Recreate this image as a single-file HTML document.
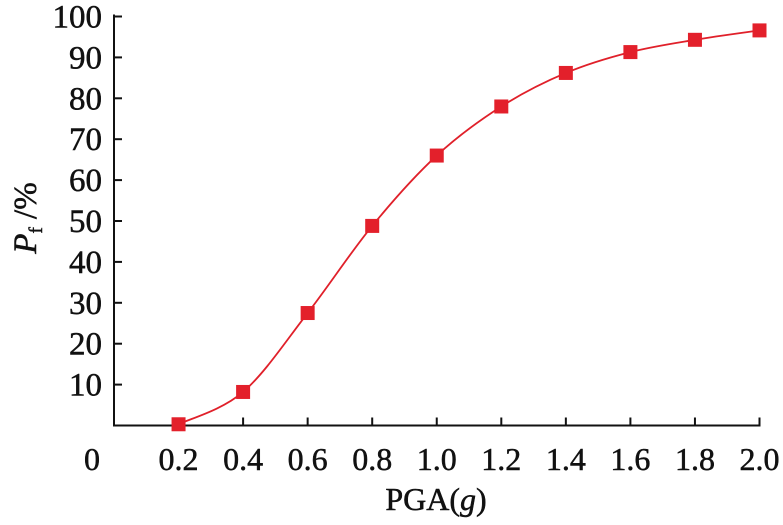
<!DOCTYPE html>
<html><head><meta charset="utf-8"><style>
body{margin:0;background:#fff}
svg text{font-family:"Liberation Serif",serif;fill:#111;stroke:#111;stroke-width:0.5}
</style></head><body>
<svg id="chart" width="783" height="520" xmlns="http://www.w3.org/2000/svg">
<g id="axes"></g>
<path id="curve" fill="none" stroke="#e0202a" stroke-width="1.8"></path>
<g id="marks"></g>
<text x="436" y="510" font-size="32" text-anchor="middle">PGA(<tspan font-style="italic">g</tspan>)</text>
<text transform="translate(36,218) rotate(-90)" font-size="33" text-anchor="middle"><tspan font-style="italic">P</tspan><tspan font-size="19" dy="6">f</tspan><tspan dy="-6"> /%</tspan></text>
</svg>
<script>
const categories=[0.2,0.4,0.6,0.8,1.0,1.2,1.4,1.6,1.8,2.0];
const pfValues=[0.3,8.2,27.5,48.8,66.0,78.0,86.2,91.3,94.3,96.6];
const xTickLabels=["0.2","0.4","0.6","0.8","1.0","1.2","1.4","1.6","1.8","2.0"];
const yTickLabels=[10,20,30,40,50,60,70,80,90,100];
const NS="http://www.w3.org/2000/svg";
const X0=114,X1=759.5,Y0=425.5,Y1=16.5;
const xs=v=>X0+(v-0)/(2.0-0.2+0.2)*(X1-X0);
const ys=v=>Y0-v/100*(Y0-Y1);
const axes=document.getElementById('axes');
function el(t,a,p){const e=document.createElementNS(NS,t);for(const k in a)e.setAttribute(k,a[k]);p.appendChild(e);return e;}
const xa=el('line',{x1:X0,y1:Y0,x2:X1+1,y2:Y0,stroke:'#111','stroke-width':2},axes);


const ya=el('line',{x1:X0,y1:Y0+1,x2:X0,y2:Y1-2,stroke:'#111','stroke-width':2},axes);


const z=el('text',{x:92,y:470,'font-size':32,'text-anchor':'middle'},axes);z.textContent='0';


categories.forEach((c,i)=>{
  const x=xs(c);
  const t=el('line',{x1:x,y1:Y0,x2:x,y2:Y0-8,stroke:'#111','stroke-width':2},axes);
  
  
  const l=el('text',{x:x,y:470,'font-size':32,'text-anchor':'middle'},axes);l.textContent=xTickLabels[i];
  
  
});
yTickLabels.forEach(v=>{
  const y=ys(v);
  const t=el('line',{x1:X0,y1:y,x2:X0+8,y2:y,stroke:'#111','stroke-width':2},axes);
  
  
  const l=el('text',{x:102,y:y+11,'font-size':33,'text-anchor':'end'},axes);l.textContent=v;
  
  
});
const pts=categories.map((c,i)=>[xs(c),ys(pfValues[i])]);
let d='M'+pts[0][0]+','+pts[0][1];
for(let i=0;i<pts.length-1;i++){
  const p0=pts[Math.max(0,i-1)],p1=pts[i],p2=pts[i+1],p3=pts[Math.min(pts.length-1,i+2)];
  const c1=[p1[0]+(p2[0]-p0[0])/6,p1[1]+(p2[1]-p0[1])/6];
  const c2=[p2[0]-(p3[0]-p1[0])/6,p2[1]-(p3[1]-p1[1])/6];
  d+=' C'+c1+' '+c2+' '+p2;
}
document.getElementById('curve').setAttribute('d',d);
const marks=document.getElementById('marks');
pts.forEach(p=>{
  const r=el('rect',{x:p[0]-7,y:p[1]-7,width:14,height:14,fill:'#e3202b'},marks);
  
  
});
</script>
</body></html>
